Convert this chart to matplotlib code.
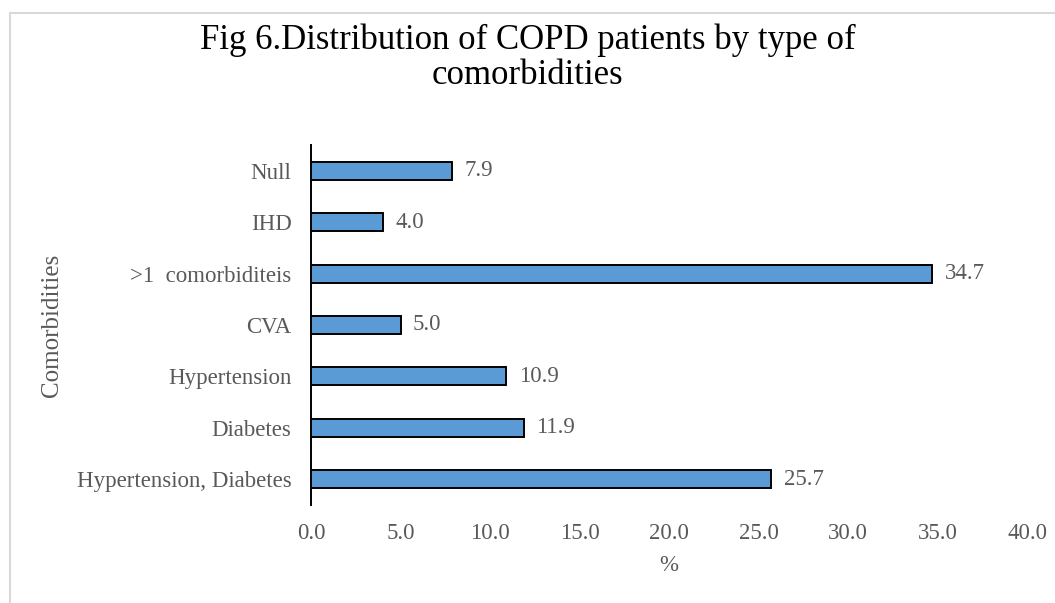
import matplotlib.pyplot as plt
from matplotlib.patches import Rectangle

# comorbidity groups, bottom to top
categories = ["Hypertension, Diabetes", "Diabetes", "Hypertension", "CVA",
              ">1  comorbiditeis", "IHD", "Null"]
percent = [25.7, 11.9, 10.9, 5.0, 34.7, 4.0, 7.9]
xticks = [0, 5, 10, 15, 20, 25, 30, 35, 40]

plt.rcParams['font.family'] = ['Liberation Serif', 'DejaVu Serif']
grey = '#595959'
fs = 16.5

fig = plt.figure(figsize=(10.55, 6.03), dpi=100)
ax = fig.add_axes([311 / 1055, 98 / 603, 716 / 1055, 360 / 603])

# light chart-area frame
fig.patches.append(Rectangle((10 / 1055, -0.1), 1.2, 0.1 + 590 / 603,
                             transform=fig.transFigure, fill=False,
                             edgecolor='#d9d9d9', linewidth=1.5))

ypos = range(len(categories))
ax.barh(ypos, percent, height=0.35, color='#5b9bd5', edgecolor='black',
        linewidth=1.4, zorder=3)
for y, v in zip(ypos, percent):
    ax.text(v + 0.7, y, f"{v:.1f}", va='center', ha='left',
            fontsize=fs, color=grey)

ax.set_xlim(0, 40)
ax.set_ylim(-0.5, len(categories) - 0.5)
ax.set_yticks(list(ypos))
ax.set_yticklabels(categories, fontsize=fs, color=grey)
ax.set_xticks(xticks)
ax.set_xticklabels([f"{t:.1f}" for t in xticks], fontsize=fs, color=grey)
ax.tick_params(axis='both', length=0)
ax.tick_params(axis='x', pad=13)
ax.tick_params(axis='y', pad=14)

for side in ['top', 'right', 'bottom']:
    ax.spines[side].set_visible(False)
ax.spines['left'].set_linewidth(1.4)
ax.spines['left'].set_color('black')

ax.set_xlabel("%", fontsize=fs, color=grey, labelpad=8)
fig.text(52 / 1055, 1 - 325 / 603, "Comorbidities", rotation=90,
         ha='center', va='center', fontsize=18, color=grey)

fig.text(0.5, 1 - 40 / 603, "Fig 6.Distribution of COPD patients by type of",
         ha='center', va='center', fontsize=25, color='black')
fig.text(0.5, 1 - 75 / 603, "comorbidities",
         ha='center', va='center', fontsize=25, color='black')

fig.savefig("out.png", dpi=100, facecolor='white')
